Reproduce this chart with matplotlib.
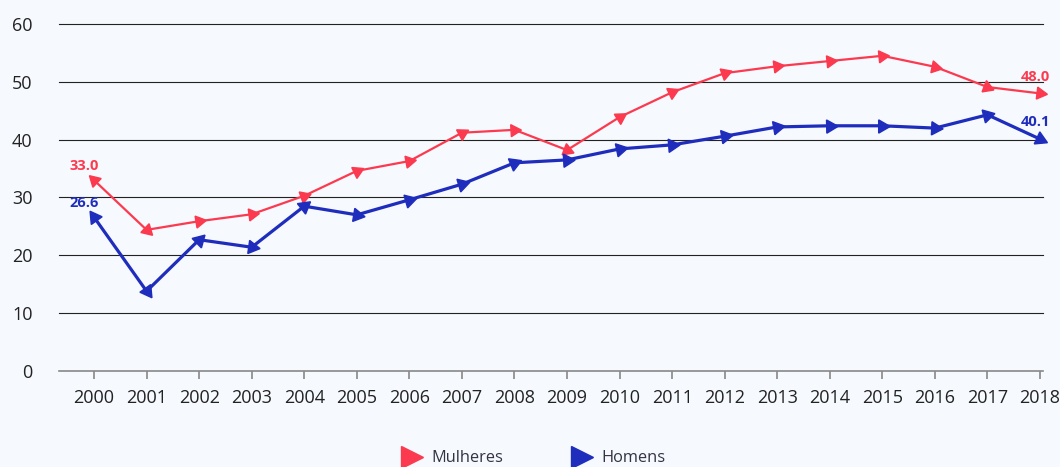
import numpy as np
import matplotlib.pyplot as plt

plt.rcParams['font.family'] = ['Open Sans', 'DejaVu Sans']

anos = list(range(2000, 2019))
mulheres = [33.0, 24.4, 25.9, 27.1, 30.3, 34.6, 36.3, 41.2, 41.7, 38.2,
            43.9, 48.2, 51.5, 52.7, 53.6, 54.5, 52.6, 49.1, 48.0]
homens = [26.6, 13.8, 22.7, 21.4, 28.5, 27.0, 29.6, 32.3, 36.0, 36.5,
          38.4, 39.1, 40.6, 42.2, 42.4, 42.4, 42.0, 44.3, 40.1]

vermelho = '#fc3a4f'
azul = '#1f2dbd'
fundo = '#f6f9fd'

fig = plt.figure(figsize=(10.6, 4.67), dpi=100, facecolor=fundo)
ax = fig.add_axes([0.0557, 0.2056, 0.9283, 0.743])
ax.set_facecolor(fundo)
ax.set_xlim(1999.334, 2018.057)
ax.set_ylim(0, 60)


def setas(x, y, cor, lw, ms, label):
    ax.plot(x, y, color=cor, lw=lw, zorder=3)
    pts = ax.transData.transform(np.column_stack([x, y]))
    for i in range(len(x)):
        if i == 0:
            d = pts[0] - pts[1]
        else:
            d = pts[i] - pts[i - 1]
        ang = np.degrees(np.arctan2(d[1], d[0])) - 90
        ax.plot(x[i], y[i], marker=(3, 0, ang), ms=ms, color=cor,
                mec=cor, ls='none', zorder=4, clip_on=False)
    # marcador da legenda
    ax.plot([], [], marker='>', ms=15.5, color=cor, ls='none', label=label)


setas(anos, mulheres, vermelho, 1.6, 10, 'Mulheres')
setas(anos, homens, azul, 2.3, 11, 'Homens')

rot = dict(textcoords='offset points', fontsize=10.5, fontweight='bold',
           va='bottom')
ax.annotate(f'{mulheres[0]:.1f}', (anos[0], mulheres[0]), xytext=(-18, 5),
            color=vermelho, ha='left', **rot)
ax.annotate(f'{homens[0]:.1f}', (anos[0], homens[0]), xytext=(-18, 5),
            color=azul, ha='left', **rot)
ax.annotate(f'{mulheres[-1]:.1f}', (anos[-1], mulheres[-1]), xytext=(7, 7),
            color=vermelho, ha='right', **rot)
ax.annotate(f'{homens[-1]:.1f}', (anos[-1], homens[-1]), xytext=(7, 7),
            color=azul, ha='right', **rot)

ax.set_yticks(range(0, 61, 10))
ax.set_xticks(anos)
ax.set_xticklabels([str(a) for a in anos])
for v in range(10, 61, 10):
    ax.axhline(v, color='#222222', lw=0.8, zorder=1, clip_on=False)
for s in ['top', 'right', 'left']:
    ax.spines[s].set_visible(False)
ax.spines['bottom'].set_color('#888888')
ax.spines['bottom'].set_linewidth(1.2)
ax.tick_params(axis='x', colors='#888888', length=6, width=1.2,
               labelcolor='#222222', labelsize=13, pad=7)
ax.tick_params(axis='y', length=0, labelcolor='#222222', labelsize=13, pad=19)

ax.legend(loc='upper center', bbox_to_anchor=(0.479, -0.205), ncol=2,
          frameon=False, fontsize=11.8, handletextpad=0.2, columnspacing=3.8,
          labelcolor='#333344', borderpad=0)

fig.savefig('out.png', dpi=100, facecolor=fundo)
